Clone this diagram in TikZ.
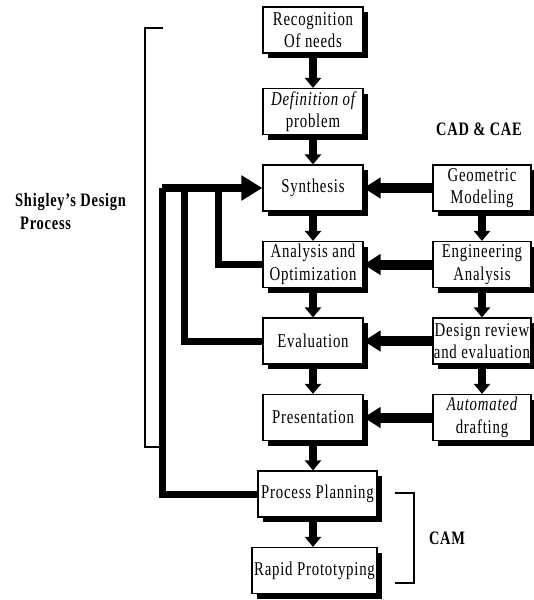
\documentclass[tikz,border=0pt]{standalone}
\usepackage{fontspec}
\setmainfont{Liberation Serif}[FakeStretch=0.76,LetterSpace=4]
\usetikzlibrary{arrows.meta,positioning,shadows}

\begin{document}
\begin{tikzpicture}[->,>={Triangle[length=10pt,width=16pt]},x=1pt,y=1pt,
  node distance=76.5pt,
  main node/.style={rectangle,draw,fill=white,line width=1.2pt,align=center,inner sep=1pt,
    minimum width=100pt,minimum height=46pt,font=\fontsize{19.5}{22.5}\selectfont,
    drop shadow={shadow xshift=5pt,shadow yshift=-5pt,fill=black,opacity=1}},
  cad node/.style={main node,minimum width=98pt},
  label node/.style={font=\fontsize{19}{23}\selectfont\bfseries,align=left,inner sep=0pt},
  flow/.style={line width=8pt},
  side/.style={line width=10pt,>={Triangle[length=17pt,width=20pt]}},
  back/.style={-,line width=7pt},
  brace line/.style={-,line width=1.2pt}]

  \useasboundingbox (0,0) rectangle (534,-600);

  % design process
  \node[main node] (1) at (313,-30) {Recognition\\Of needs};
  \node[main node] (2) [below of=1,node distance=81.5pt] {\itshape Definition of\\problem};
  \node[main node] (3) [below of=2] {Synthesis};
  \node[main node] (4) [below of=3] {Analysis and\\Optimization};
  \node[main node] (5) [below of=4] {Evaluation};
  \node[main node] (6) [below of=5] {Presentation};
  \node[main node,minimum width=119pt,xshift=4.5pt] (7) [below of=6] {Process Planning};
  \node[main node,minimum width=125pt,xshift=-3pt] (8) [below of=7] {Rapid Prototyping};

  % cad & cae
  \node[cad node] (9) [right of=3,node distance=169pt] {Geometric\\Modeling};
  \node[cad node] (10) [below of=9] {Engineering\\Analysis};
  \node[cad node] (11) [below of=10] {Design review\\and evaluation};
  \node[cad node] (12) [below of=11] {{\itshape Automated}\\drafting};

  \node[label node,anchor=west] (13) at (15,-211) {Shigley's Design\\\hspace{5pt}Process};
  \node[label node] (14) at (479,-129) {CAD \& CAE};
  \node[label node] (15) at (447,-538) {CAM};

  \path[flow]
    (1) edge (2)
    (2) edge (3)
    (3) edge (4)
    (4) edge (5)
    (5) edge (6)
    (6) edge (7.north -| 6.south)
    (7.south -| 6.south) edge (8.north -| 6.south)
    (9) edge (10)
    (10) edge (11)
    (11) edge (12)
    ;

  \path[side]
    (9) edge (3)
    (10) edge (4)
    (11) edge (5)
    (12) edge (6)
    ;

  % feedback loops
  \coordinate[left=44pt of 3.west] (a);
  \coordinate[left=78pt of 3.west] (b);
  \coordinate[left=100pt of 3.west] (c);
  \draw[back] (4.west) -| (a);
  \draw[back] (5.west) -| (b);
  \draw[back] (7.west) -| (c);
  \draw[line width=8pt,>={Triangle[length=21pt,width=24pt]}] (c) -- (3.west);

  % brackets
  \draw[brace line] (163,-28) -- (145,-28) -- (145,-447) -- (161,-447);
  \draw[brace line] (395,-493) -- (414,-493) -- (414,-583) -- (395,-583);

\end{tikzpicture}
\end{document}
